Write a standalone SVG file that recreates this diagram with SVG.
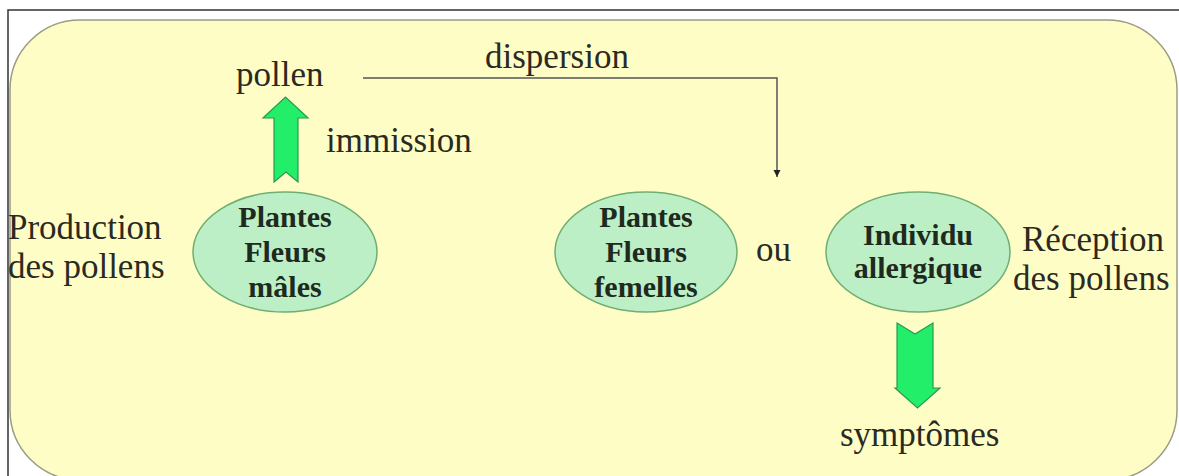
<svg xmlns="http://www.w3.org/2000/svg" width="1179" height="476" viewBox="0 0 1179 476">
<defs>
<style>
.t{font-family:"Liberation Serif","Times New Roman",serif;fill:#2a2a22;font-size:35px}
.b{font-family:"Liberation Serif","Times New Roman",serif;font-weight:bold;fill:#1e2a1e;font-size:30px;text-anchor:middle}
.el{fill:#bdefc6;stroke:#6fae72;stroke-width:1.5}
.ga{fill:#22ee6a;stroke:#2a9a50;stroke-width:1.2}
</style>
<marker id="ah" viewBox="0 0 10 10" refX="10" refY="5" markerWidth="5" markerHeight="5" orient="auto">
<path d="M0,0 L10,5 L0,10 z" fill="#222"/>
</marker>
</defs>
<rect width="1179" height="476" fill="#fff"/>
<rect x="8" y="10" width="1180" height="480" fill="none" stroke="#333" stroke-width="1.5"/>
<rect x="10" y="20" width="1167" height="460" rx="70" ry="70" fill="#fffdc6" stroke="#9a9c84" stroke-width="1.5"/>

<g id="connectors">
<path d="M363,78 H777 V177" fill="none" stroke="#555" stroke-width="1.5" marker-end="url(#ah)"/>
<path class="ga" d="M274,182 L286,172 L298,182 L298,118 L308,118 L285.5,97 L263,118 L274,118 Z"/>
<path class="ga" d="M897,323 L915,334 L933,323 L933,388 L940,388 L917.5,408 L895,388 L897,388 Z"/>
</g>

<g id="label-pollen"><text class="t" x="236" y="86">pollen</text></g>
<g id="label-dispersion"><text class="t" x="485" y="68">dispersion</text></g>
<g id="label-immission"><text class="t" x="326" y="152">immission</text></g>
<g id="label-production"><text class="t" x="8" y="239">Production</text><text class="t" x="8" y="278">des pollens</text></g>
<g id="label-ou"><text class="t" x="756" y="261">ou</text></g>
<g id="label-reception"><text class="t" x="1022" y="251">Réception</text><text class="t" x="1013" y="290">des pollens</text></g>
<g id="label-symptomes"><text class="t" x="840" y="446">symptômes</text></g>

<g id="node-males">
<ellipse class="el" cx="285" cy="252" rx="92" ry="60"/>
<text class="b" x="285" y="227">Plantes</text>
<text class="b" x="285" y="262">Fleurs</text>
<text class="b" x="285" y="297">mâles</text>
</g>
<g id="node-femelles">
<ellipse class="el" cx="646" cy="252" rx="91" ry="60"/>
<text class="b" x="646" y="227">Plantes</text>
<text class="b" x="646" y="262">Fleurs</text>
<text class="b" x="646" y="297">femelles</text>
</g>
<g id="node-individu">
<ellipse class="el" cx="918" cy="252" rx="92" ry="60"/>
<text class="b" x="918" y="245">Individu</text>
<text class="b" x="918" y="278">allergique</text>
</g>
</svg>
